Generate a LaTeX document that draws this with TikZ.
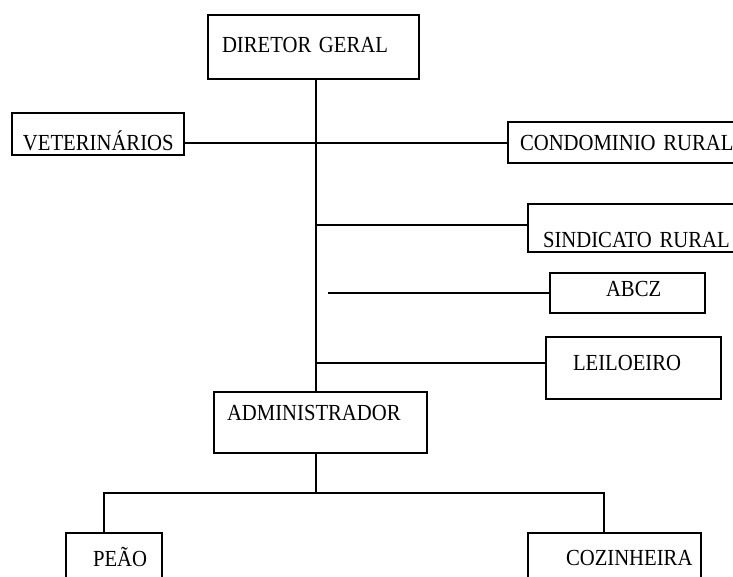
\documentclass[tikz,border=0pt]{standalone}
\usepackage{fontspec}
\setmainfont{Liberation Serif}[FakeStretch=0.9]
\usetikzlibrary{positioning}
\hyphenpenalty=10000

\begin{document}
\begin{tikzpicture}[x=1pt, y=-1pt, line width=1.8pt,
  box/.style={draw, align=left, inner ysep=0pt, outer sep=0pt, font=\fontsize{23}{27}\selectfont}]
  \clip (0,0) rectangle (733,576);
  \node[box, anchor=north west, text width=183pt, inner xsep=14pt, text height=37pt, text depth=27pt] (dir) at (208,15) {DIRETOR GERAL};
  \node[box, below left=34pt and 24pt of dir.south west, text width=150pt, inner xsep=11pt, text height=37pt, text depth=5pt] (vet) {VETERINÁRIOS};
  \node[box, below right=43pt and 89pt of dir.south east, text width=228pt, inner xsep=12pt, text height=28pt, text depth=13pt] (cond) {CONDOMINIO RURAL};
  \node[box, below right=41pt and 20pt of cond.south west, text width=202pt, inner xsep=15pt, text height=43pt, text depth=5pt] (sind) {SINDICATO RURAL};
  \node[box, below right=21pt and 22pt of sind.south west, text width=43pt, inner xsep=56pt, text height=23pt, text depth=17pt] (abcz) {ABCZ};
  \node[box, below right=24pt and -4pt of abcz.south west, text width=121pt, inner xsep=27pt, text height=33pt, text depth=29pt] (leil) {LEILOEIRO};
  \node[box, below right=313pt and 6pt of dir.south west, text width=187pt, inner xsep=13pt, text height=28pt, text depth=33pt] (adm) {ADMINISTRADOR};
  \node[box, below left=80pt and 52pt of adm.south west, text width=42pt, inner xsep=27pt, text height=33pt, text depth=34pt] (peao) {PEÃO};
  \node[box, below right=80pt and 101pt of adm.south east, text width=97pt, inner xsep=38pt, text height=32pt, text depth=35pt] (coz) {COZINHEIRA};

  \coordinate (spine) at ([xshift=2.5pt]dir.south);
  \coordinate (abczstub) at ([xshift=12pt]spine |- abcz.west);
  \coordinate (fork) at ([yshift=-40pt]spine |- adm.south);

  \draw[-] (spine) -- (spine |- adm.north);
  \draw[-] ([yshift=-0.5pt]vet.east |- cond.west) -- ([yshift=-0.5pt]cond.west);
  \draw[-] ([yshift=3pt]spine |- sind.west) -- ([yshift=3pt]sind.west);
  \draw[-] (abczstub) -- (abcz.west);
  \draw[-] ([yshift=5pt]spine |- leil.west) -- ([yshift=5pt]leil.west);
  \draw[-] (spine |- adm.south) -- (fork);
  \draw[-] ([xshift=-10pt]peao.north) |- (fork) -| ([xshift=-10.5pt]coz.north);
\end{tikzpicture}
\end{document}
